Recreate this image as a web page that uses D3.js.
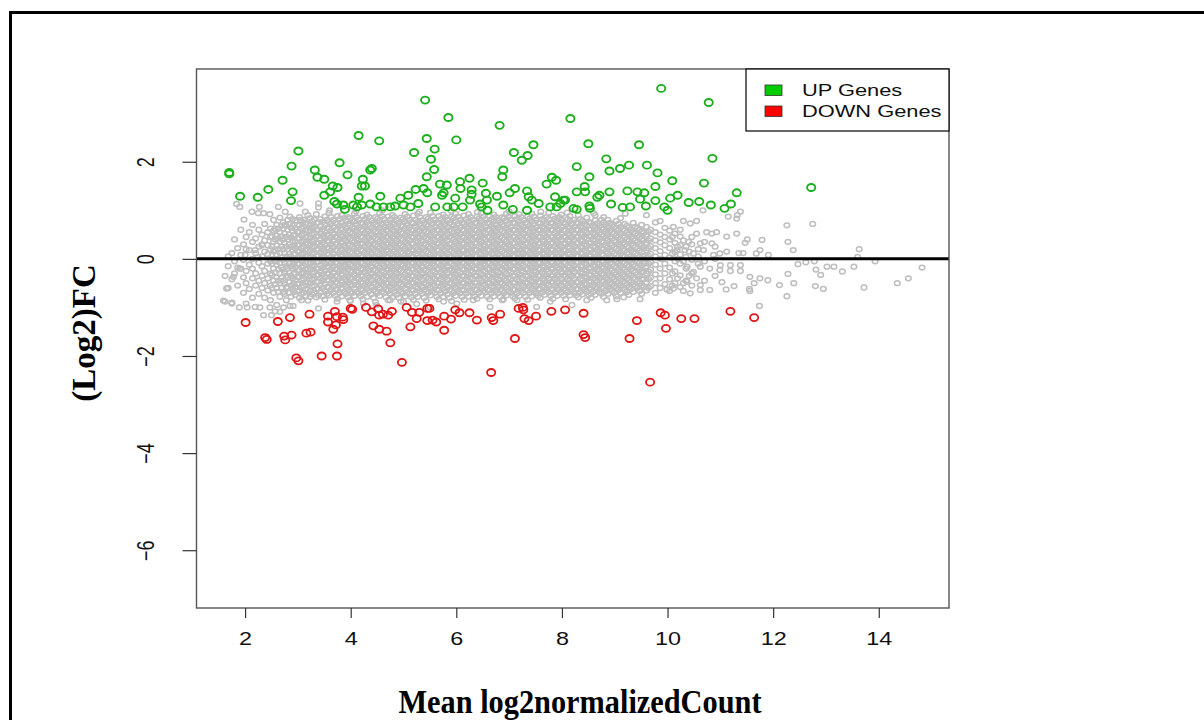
<!DOCTYPE html>
<html><head><meta charset="utf-8">
<script src="https://cdn.jsdelivr.net/npm/d3@7"></script>
<style>body{margin:0;background:#fff}svg{display:block}</style>
</head><body>
<svg id="chart" width="1204" height="720"></svg>
<script>
const xTicks = [2, 4, 6, 8, 10, 12, 14];
const yTicks = [2, 0, -2, -4, -6];
const legendLabels = ["UP Genes", "DOWN Genes"];
const xTitle = "Mean log2normalizedCount";
const yTitle = "(Log2)FC";

const upGenes = [
[1.70,1.78],[1.70,1.75],[1.905,1.29],[2.24,1.27],[2.44,1.43],[2.71,1.62],[2.88,1.91],[3.01,2.22],[2.90,1.38],[2.87,1.20],
[3.32,1.83],[3.37,1.68],[3.50,1.64],[3.79,1.98],[3.94,1.73],[3.66,1.50],[3.75,1.47],[3.61,1.38],[3.50,1.31],
[4.15,2.54],[4.23,1.64],[4.21,1.50],[4.27,1.50],[4.15,1.27],[4.37,1.83],[4.40,1.86],[4.54,2.43],[4.56,1.29],
[3.69,1.18],[3.74,1.13],[3.86,1.11],[3.89,1.02],
[4.05,1.11],[4.12,1.07],[4.21,1.11],[4.37,1.13],[4.49,1.07],[4.62,1.07],[4.75,1.07],[4.84,1.09],[4.94,1.25],[5.0,1.11],
[5.09,1.31],[5.13,1.07],[5.20,2.19],[5.23,1.43],[5.28,1.14],[5.38,1.45],[5.44,2.48],[5.45,1.36],[5.44,1.69],[5.52,2.05],
[5.59,2.26],[5.58,1.84],[5.60,1.07],[5.69,1.54],[5.73,1.31],[5.76,1.36],[5.82,1.52],[5.83,1.07],[5.95,1.07],[6.0,2.45],
[5.85,2.91],[5.41,3.27],[5.98,1.25],[6.07,1.59],[6.08,1.45],[6.12,1.07],[6.25,1.66],[6.29,1.42],[6.29,1.33],[6.26,1.21],
[6.45,1.13],[6.50,1.56],[6.56,1.35],[6.58,1.21],[6.59,1.0],[6.48,1.07],[6.77,1.29],[6.82,2.75],[6.89,1.83],[6.87,1.69],
[6.89,1.11],[7.01,1.36],[7.07,1.02],[7.09,2.19],[7.11,1.45],[7.24,2.03],[7.35,2.13],[7.46,2.35],[7.34,1.40],[7.37,1.28],
[7.34,1.0],[7.43,1.21],[7.56,1.14],[7.71,1.54],[7.81,1.68],[7.89,1.62],[7.87,1.28],[7.78,1.07],[7.90,1.07],[8.06,1.21],[8.16,2.89],
[9.88,3.51],[10.78,3.22],[8.50,2.37],[9.46,2.35],[10.85,2.07],[8.84,2.06],[8.28,1.90],[8.90,1.81],[9.10,1.86],[9.27,1.93],
[9.61,1.93],[9.81,1.77],[8.52,1.69],[10.09,1.61],[9.77,1.49],[10.69,1.56],[12.72,1.47],[11.31,1.36],[8.43,1.49],[8.28,1.38],
[8.44,1.38],[8.90,1.38],[9.24,1.40],[9.43,1.38],[9.56,1.36],[8.71,1.31],[8.67,1.27],[9.48,1.23],[9.77,1.20],[10.05,1.25],
[10.19,1.31],[10.40,1.16],[10.60,1.18],[10.82,1.11],[11.20,1.13],[11.08,1.04],[8.93,1.13],[9.15,1.06],[9.29,1.07],[9.59,1.09],
[9.94,1.07],[10.0,1.0],[8.52,1.09],[8.53,1.04],[8.22,1.04],[8.28,1.02],[8.03,1.21],[7.97,1.14]
];

const downGenes = [
[2.01,-1.31],[2.38,-1.62],[2.41,-1.66],[2.62,-1.29],[2.74,-1.59],[2.76,-1.67],[2.88,-1.57],[2.85,-1.21],[2.97,-2.04],[3.01,-2.10],
[3.16,-1.53],[3.24,-1.51],[3.22,-1.14],[3.45,-2.0],[3.57,-1.18],[3.57,-1.30],[3.70,-1.08],[3.74,-1.19],[3.85,-1.20],[3.86,-1.25],
[3.72,-1.36],[3.67,-1.45],[3.75,-1.75],[3.74,-2.0],[4.0,-1.02],[4.03,-1.04],[4.29,-1.0],[4.40,-1.09],[4.52,-1.03],[4.54,-1.16],
[4.61,-1.14],[4.71,-1.16],[4.78,-1.08],[4.43,-1.38],[4.54,-1.45],[4.68,-1.49],[4.75,-1.73],[4.97,-2.13],[5.06,-1.0],[5.16,-1.10],
[5.30,-1.10],[5.25,-1.23],[5.45,-1.02],[5.49,-1.02],[5.13,-1.40],[5.45,-1.27],[5.55,-1.26],[5.62,-1.30],[5.77,-1.18],[5.90,-1.24],
[5.77,-1.47],[5.98,-1.05],[6.06,-1.11],[6.25,-1.11],[6.39,-1.26],[6.66,-2.34],[6.67,-1.21],[6.70,-1.27],[6.83,-1.14],[7.11,-1.64],
[7.18,-1.02],[7.26,-1.0],[7.27,-1.05],[7.29,-1.23],[7.37,-1.27],[7.51,-1.18],[7.80,-1.08],[8.06,-1.05],[8.41,-1.12],[8.41,-1.56],
[8.44,-1.62],[9.42,-1.27],[9.28,-1.64],[9.87,-1.11],[9.95,-1.16],[9.97,-1.43],[10.26,-1.23],[10.51,-1.23],[9.67,-2.54],[11.19,-1.08],[11.64,-1.21]
];

// gray (non-significant) genes, read column by column from the dense cloud
const grayColumns = [
[1.62,[-0.88,-0.35]],
[1.68,[-0.6,-0.15,0.05]],
[1.75,[-0.92,-0.42,0.12]],
[1.8,[-0.3,-0.05,0.4]],
[1.86,[-0.55,-0.18,0.22]],
[1.92,[-0.2,0.08,0.6]],
[1.97,[-0.7,-0.38,-0.02,0.3]],
[2.02,[-0.92,-0.5,-0.25,0.2,0.45]],
[2.08,[-0.62,-0.12,0.18,0.55]],
[2.14,[-0.8,-0.4,-0.2,0.0,0.35,0.7]],
[2.2,[-0.55,-0.3,0.12,0.42]],
[2.26,[-0.72,-0.45,-0.08,0.25,0.6]],
[2.32,[-0.6,-0.35,-0.15,0.05,0.3,0.5]],
[2.37,[-0.8,-0.5,-0.25,0.15,0.38,0.72]],
[2.43,[-0.65,-0.4,-0.1,0.1,0.28,0.55]],
[2.48,[-0.85,-0.55,-0.3,-0.05,0.2,0.45,0.62]],
[2.54,[-0.7,-0.45,-0.2,0.0,0.15,0.35,0.58,0.8]],
[2.6,[-0.95,-0.6,-0.38,-0.12,0.08,0.28,0.48,0.7]],
[2.66,[-0.78,-0.5,-0.3,-0.08,0.12,0.35,0.55,0.85]],
[2.72,[-0.68,-0.45,-0.22,-0.02,0.2,0.4,0.62,0.75]],
[2.78,[-0.85,-0.58,-0.35,-0.15,0.05,0.25,0.45,0.68]],
[2.84,[-0.7,-0.48,-0.28,-0.1,0.1,0.3,0.5,0.72]],
[2.9,[-0.62,-0.4,-0.2,0.0,0.18,0.38,0.58,0.82]],
[2.95,[-0.74,-0.58,-0.44,-0.3,-0.17,-0.04,0.09,0.22,0.35,0.49,0.62,0.78]],
[3.03,[-0.8,-0.65,-0.51,-0.37,-0.24,-0.11,0.02,0.15,0.28,0.42,0.55,0.69,0.86]],
[3.11,[-0.7,-0.55,-0.41,-0.28,-0.14,-0.01,0.12,0.25,0.38,0.52,0.66,0.8]],
[3.19,[-0.86,-0.63,-0.49,-0.35,-0.21,-0.08,0.05,0.18,0.31,0.45,0.58,0.72,0.9]],
[3.27,[-0.73,-0.57,-0.43,-0.3,-0.16,-0.03,0.1,0.23,0.36,0.5,0.63,0.77]],
[3.35,[-0.79,-0.62,-0.47,-0.34,-0.2,-0.07,0.06,0.19,0.33,0.46,0.6,0.74,0.92]],
[3.43,[-0.68,-0.54,-0.4,-0.26,-0.13,0.0,0.13,0.26,0.4,0.53,0.67,0.82]],
[3.51,[-0.84,-0.66,-0.51,-0.37,-0.23,-0.1,0.03,0.16,0.3,0.43,0.57,0.71,0.87]],
[3.59,[-0.75,-0.59,-0.45,-0.31,-0.18,-0.05,0.08,0.21,0.35,0.48,0.62,0.76,0.95]],
[3.67,[-0.7,-0.56,-0.42,-0.28,-0.15,-0.02,0.11,0.24,0.38,0.51,0.65,0.8]],
[3.75,[-0.82,-0.64,-0.5,-0.36,-0.22,-0.09,0.04,0.17,0.31,0.44,0.58,0.72,0.88]],
[3.83,[-0.77,-0.6,-0.46,-0.32,-0.19,-0.06,0.07,0.2,0.34,0.47,0.61,0.75,0.9]],
[3.91,[-0.72,-0.57,-0.43,-0.29,-0.16,-0.03,0.1,0.23,0.37,0.5,0.64,0.79]],
[3.99,[-0.87,-0.68,-0.53,-0.39,-0.25,-0.12,0.01,0.14,0.28,0.41,0.55,0.69,0.84]],
[4.07,[-0.76,-0.6,-0.46,-0.32,-0.18,-0.05,0.08,0.21,0.35,0.48,0.62,0.77,0.93]],
[4.15,[-0.71,-0.56,-0.42,-0.28,-0.15,-0.02,0.11,0.24,0.38,0.51,0.65,0.81]],
[4.23,[-0.83,-0.65,-0.5,-0.36,-0.22,-0.09,0.04,0.17,0.31,0.44,0.58,0.72,0.88]],
[4.31,[-0.78,-0.61,-0.47,-0.33,-0.19,-0.06,0.07,0.2,0.34,0.47,0.61,0.76,0.91]],
[4.39,[-0.73,-0.58,-0.44,-0.3,-0.16,-0.03,0.1,0.23,0.37,0.5,0.64,0.79]],
[4.47,[-0.89,-0.67,-0.52,-0.38,-0.24,-0.11,0.02,0.15,0.29,0.42,0.56,0.7,0.86]],
[4.55,[-0.76,-0.6,-0.45,-0.31,-0.17,-0.04,0.09,0.22,0.36,0.49,0.63,0.78,0.94]],
[4.63,[-0.7,-0.55,-0.41,-0.27,-0.14,-0.01,0.12,0.25,0.39,0.52,0.66,0.82]],
[4.71,[-0.85,-0.66,-0.51,-0.37,-0.23,-0.1,0.03,0.16,0.3,0.43,0.57,0.71,0.87]],
[4.79,[-0.79,-0.62,-0.48,-0.34,-0.2,-0.07,0.06,0.19,0.33,0.46,0.6,0.75,0.9]],
[4.87,[-0.74,-0.58,-0.44,-0.3,-0.16,-0.03,0.1,0.23,0.37,0.5,0.64,0.8]],
[4.95,[-0.88,-0.68,-0.53,-0.39,-0.25,-0.12,0.01,0.14,0.28,0.41,0.55,0.69,0.85]],
[5.03,[-0.77,-0.61,-0.46,-0.32,-0.18,-0.05,0.08,0.21,0.35,0.48,0.62,0.77,0.92]],
[5.11,[-0.72,-0.56,-0.42,-0.28,-0.15,-0.02,0.11,0.24,0.38,0.51,0.65,0.8]],
[5.19,[-0.84,-0.65,-0.5,-0.36,-0.22,-0.09,0.04,0.17,0.31,0.44,0.58,0.73,0.89]],
[5.27,[-0.78,-0.61,-0.47,-0.33,-0.19,-0.06,0.07,0.2,0.34,0.47,0.61,0.76,0.93]],
[5.35,[-0.71,-0.57,-0.43,-0.29,-0.16,-0.03,0.1,0.23,0.37,0.5,0.64,0.79]],
[5.43,[-0.86,-0.67,-0.52,-0.38,-0.24,-0.11,0.02,0.15,0.29,0.42,0.56,0.7,0.86]],
[5.51,[-0.75,-0.6,-0.45,-0.31,-0.17,-0.04,0.09,0.22,0.36,0.49,0.63,0.78,0.95]],
[5.59,[-0.7,-0.55,-0.41,-0.27,-0.14,-0.01,0.12,0.25,0.39,0.52,0.66,0.81]],
[5.67,[-0.83,-0.65,-0.5,-0.36,-0.22,-0.09,0.04,0.17,0.31,0.44,0.58,0.72,0.88]],
[5.75,[-0.78,-0.61,-0.47,-0.33,-0.19,-0.06,0.07,0.2,0.34,0.47,0.61,0.76,0.91]],
[5.83,[-0.73,-0.57,-0.43,-0.29,-0.15,-0.02,0.11,0.24,0.38,0.51,0.65,0.8]],
[5.91,[-0.87,-0.66,-0.51,-0.37,-0.23,-0.1,0.03,0.16,0.3,0.43,0.57,0.71,0.87]],
[5.99,[-0.76,-0.6,-0.46,-0.32,-0.18,-0.05,0.08,0.21,0.35,0.48,0.62,0.77,0.93]],
[6.07,[-0.71,-0.56,-0.42,-0.28,-0.15,-0.02,0.11,0.24,0.38,0.51,0.65,0.8]],
[6.15,[-0.84,-0.65,-0.5,-0.36,-0.22,-0.09,0.04,0.17,0.31,0.44,0.58,0.72,0.89]],
[6.23,[-0.77,-0.6,-0.46,-0.32,-0.18,-0.05,0.08,0.21,0.35,0.48,0.62,0.77,0.92]],
[6.31,[-0.7,-0.55,-0.41,-0.27,-0.14,-0.01,0.12,0.25,0.39,0.52,0.66,0.8]],
[6.39,[-0.82,-0.64,-0.49,-0.35,-0.21,-0.08,0.05,0.18,0.32,0.45,0.59,0.73,0.87]],
[6.47,[-0.76,-0.6,-0.45,-0.31,-0.17,-0.04,0.09,0.22,0.36,0.49,0.63,0.78,0.94]],
[6.55,[-0.69,-0.54,-0.4,-0.26,-0.13,0.0,0.13,0.26,0.4,0.53,0.67,0.82]],
[6.63,[-0.83,-0.65,-0.5,-0.36,-0.22,-0.09,0.04,0.17,0.31,0.44,0.58,0.72,0.88]],
[6.71,[-0.77,-0.6,-0.46,-0.32,-0.18,-0.05,0.08,0.21,0.35,0.48,0.62,0.77,0.91]],
[6.79,[-0.71,-0.56,-0.42,-0.28,-0.15,-0.02,0.11,0.24,0.38,0.51,0.65,0.8]],
[6.87,[-0.85,-0.66,-0.51,-0.37,-0.23,-0.1,0.03,0.16,0.3,0.43,0.57,0.71,0.86]],
[6.95,[-0.75,-0.59,-0.45,-0.31,-0.17,-0.04,0.09,0.22,0.36,0.49,0.63,0.78,0.93]],
[7.03,[-0.7,-0.55,-0.41,-0.27,-0.14,-0.01,0.12,0.25,0.39,0.52,0.66,0.81]],
[7.11,[-0.81,-0.64,-0.49,-0.35,-0.21,-0.08,0.05,0.18,0.32,0.45,0.59,0.73,0.88]],
[7.19,[-0.76,-0.6,-0.46,-0.32,-0.18,-0.05,0.08,0.21,0.35,0.48,0.62,0.77,0.92]],
[7.27,[-0.7,-0.55,-0.41,-0.27,-0.14,-0.01,0.12,0.25,0.39,0.52,0.66,0.8]],
[7.35,[-0.84,-0.65,-0.5,-0.36,-0.22,-0.09,0.04,0.17,0.31,0.44,0.58,0.72,0.87]],
[7.43,[-0.77,-0.61,-0.46,-0.32,-0.18,-0.05,0.08,0.21,0.35,0.48,0.62,0.77,0.93]],
[7.51,[-0.71,-0.56,-0.42,-0.28,-0.15,-0.02,0.11,0.24,0.38,0.51,0.65,0.8]],
[7.59,[-0.8,-0.63,-0.49,-0.35,-0.21,-0.08,0.05,0.18,0.32,0.45,0.59,0.73,0.89]],
[7.67,[-0.74,-0.59,-0.45,-0.31,-0.17,-0.04,0.09,0.22,0.36,0.49,0.63,0.78]],
[7.75,[-0.69,-0.54,-0.4,-0.26,-0.13,0.0,0.13,0.26,0.4,0.53,0.67,0.82,0.95]],
[7.83,[-0.82,-0.64,-0.49,-0.35,-0.21,-0.08,0.05,0.18,0.32,0.45,0.59,0.73,0.88]],
[7.91,[-0.76,-0.6,-0.46,-0.32,-0.18,-0.05,0.08,0.21,0.35,0.48,0.62,0.77]],
[7.99,[-0.7,-0.55,-0.41,-0.27,-0.14,-0.01,0.12,0.25,0.39,0.52,0.66,0.8,0.91]],
[8.07,[-0.83,-0.65,-0.5,-0.36,-0.22,-0.09,0.04,0.17,0.31,0.44,0.58,0.72]],
[8.15,[-0.75,-0.59,-0.45,-0.31,-0.17,-0.04,0.09,0.22,0.36,0.49,0.63,0.78,0.88]],
[8.23,[-0.7,-0.55,-0.41,-0.27,-0.14,-0.01,0.12,0.25,0.39,0.52,0.66,0.8]],
[8.31,[-0.79,-0.62,-0.48,-0.34,-0.2,-0.07,0.06,0.19,0.33,0.46,0.6,0.74,0.9]],
[8.39,[-0.73,-0.58,-0.44,-0.3,-0.16,-0.03,0.1,0.23,0.37,0.5,0.64,0.78]],
[8.47,[-0.68,-0.53,-0.39,-0.25,-0.12,0.01,0.14,0.27,0.41,0.54,0.68,0.85]],
[8.55,[-0.8,-0.63,-0.48,-0.34,-0.2,-0.07,0.06,0.19,0.33,0.46,0.6,0.74]],
[8.63,[-0.74,-0.58,-0.44,-0.3,-0.16,-0.03,0.1,0.23,0.37,0.5,0.64,0.79,0.9]],
[8.71,[-0.68,-0.53,-0.39,-0.25,-0.12,0.01,0.14,0.27,0.41,0.54,0.68]],
[8.79,[-0.78,-0.61,-0.47,-0.33,-0.19,-0.06,0.07,0.2,0.34,0.47,0.61,0.75,0.86]],
[8.87,[-0.72,-0.57,-0.43,-0.29,-0.15,-0.02,0.11,0.24,0.38,0.51,0.65,0.8]],
[8.95,[-0.66,-0.52,-0.38,-0.24,-0.11,0.02,0.15,0.28,0.42,0.55,0.7]],
[9.03,[-0.77,-0.6,-0.46,-0.32,-0.18,-0.05,0.08,0.21,0.35,0.48,0.62,0.78]],
[9.11,[-0.7,-0.55,-0.41,-0.27,-0.14,-0.01,0.12,0.25,0.39,0.52,0.66,0.84]],
[9.19,[-0.64,-0.5,-0.36,-0.22,-0.09,0.04,0.17,0.3,0.44,0.58,0.72]],
[9.27,[-0.74,-0.58,-0.44,-0.3,-0.16,-0.03,0.1,0.23,0.37,0.5,0.65]],
[9.35,[-0.68,-0.53,-0.39,-0.25,-0.12,0.01,0.14,0.27,0.41,0.55,0.74]],
[9.43,[-0.6,-0.46,-0.32,-0.18,-0.05,0.08,0.21,0.35,0.49,0.63]],
[9.51,[-0.72,-0.55,-0.41,-0.27,-0.13,0.0,0.13,0.27,0.41,0.56,0.7]],
[9.6,[-0.65,-0.48,-0.3,-0.15,0.02,0.18,0.33,0.5,0.66]],
[9.68,[-0.56,-0.38,-0.22,-0.06,0.1,0.26,0.42,0.6]],
[9.77,[-0.7,-0.5,-0.32,-0.12,0.05,0.22,0.38,0.55,0.75]],
[9.86,[-0.6,-0.4,-0.2,0.0,0.16,0.34,0.5]],
[9.95,[-0.52,-0.3,-0.1,0.08,0.28,0.45,0.64]],
[10.04,[-0.66,-0.42,-0.18,0.03,0.22,0.4,0.58]],
[10.09,[-0.55,-0.3,0.1,0.45]],
[10.14,[-0.5,-0.26,-0.05,0.14,0.33,0.52]],
[10.19,[-0.4,0.0,0.25]],
[10.24,[-0.58,-0.34,-0.1,0.09,0.28,0.6]],
[10.3,[-0.5,-0.05,0.38]],
[10.35,[-0.45,-0.2,0.04,0.25]],
[10.41,[-0.35,0.15]],
[10.46,[-0.55,-0.3,-0.02,0.3,0.45]],
[10.58,[-0.1,0.05,0.2]],
[10.7,[-0.45,-0.05,0.35]],
[10.9,[-0.35,0.0,0.25]]
];

// second pass through the dense core, between the columns above
const grayCoreColumns = [
[2.51,[-0.6,-0.33,-0.1,0.08,0.25,0.46]],
[2.57,[-0.52,-0.28,-0.05,0.18,0.4,0.62]],
[2.63,[-0.68,-0.45,-0.22,0.0,0.2,0.42,0.62]],
[2.69,[-0.6,-0.38,-0.18,0.03,0.25,0.46,0.68]],
[2.75,[-0.72,-0.5,-0.28,-0.08,0.12,0.33,0.52,0.7]],
[2.81,[-0.6,-0.38,-0.2,0.0,0.2,0.4,0.6,0.8]],
[2.87,[-0.78,-0.55,-0.35,-0.15,0.05,0.25,0.44,0.64]],
[2.92,[-0.68,-0.5,-0.3,-0.1,0.1,0.28,0.48,0.7]],
[2.99,[-0.67,-0.52,-0.37,-0.24,-0.1,0.03,0.16,0.29,0.42,0.56,0.7]],
[3.07,[-0.72,-0.58,-0.44,-0.3,-0.17,-0.04,0.09,0.22,0.35,0.49,0.62,0.77]],
[3.15,[-0.76,-0.62,-0.48,-0.34,-0.21,-0.07,0.06,0.19,0.32,0.45,0.59,0.73]],
[3.23,[-0.66,-0.5,-0.36,-0.23,-0.1,0.03,0.16,0.29,0.43,0.57,0.7,0.84]],
[3.31,[-0.7,-0.55,-0.4,-0.27,-0.13,0.0,0.13,0.26,0.39,0.53,0.67,0.81]],
[3.39,[-0.75,-0.61,-0.47,-0.33,-0.2,-0.06,0.07,0.2,0.33,0.47,0.6,0.75]],
[3.47,[-0.77,-0.6,-0.45,-0.32,-0.18,-0.05,0.08,0.21,0.34,0.47,0.61,0.76]],
[3.55,[-0.72,-0.58,-0.44,-0.3,-0.16,-0.03,0.1,0.23,0.37,0.5,0.64,0.8]],
[3.63,[-0.64,-0.5,-0.36,-0.22,-0.09,0.04,0.17,0.3,0.44,0.58,0.72,0.86]],
[3.71,[-0.76,-0.62,-0.48,-0.35,-0.21,-0.08,0.05,0.18,0.31,0.45,0.59,0.74]],
[3.79,[-0.7,-0.54,-0.4,-0.26,-0.13,0.0,0.13,0.26,0.4,0.54,0.68,0.82]],
[3.87,[-0.68,-0.53,-0.39,-0.25,-0.12,0.01,0.14,0.27,0.41,0.55,0.69,0.84]],
[3.95,[-0.79,-0.64,-0.5,-0.36,-0.22,-0.09,0.04,0.17,0.3,0.44,0.58,0.72,0.86]],
[4.03,[-0.7,-0.55,-0.41,-0.27,-0.14,-0.01,0.12,0.25,0.38,0.52,0.66,0.8]],
[4.11,[-0.68,-0.53,-0.39,-0.25,-0.11,0.02,0.15,0.28,0.42,0.56,0.7,0.86]],
[4.19,[-0.77,-0.62,-0.48,-0.34,-0.2,-0.07,0.06,0.19,0.32,0.46,0.6,0.74]],
[4.27,[-0.7,-0.55,-0.41,-0.27,-0.13,0.0,0.13,0.26,0.39,0.53,0.67,0.82]],
[4.35,[-0.66,-0.52,-0.38,-0.24,-0.1,0.03,0.16,0.29,0.43,0.57,0.71,0.86]],
[4.43,[-0.8,-0.64,-0.5,-0.36,-0.22,-0.08,0.05,0.18,0.31,0.45,0.59,0.74]],
[4.51,[-0.7,-0.55,-0.41,-0.27,-0.13,0.0,0.13,0.26,0.4,0.54,0.68,0.83]],
[4.59,[-0.67,-0.52,-0.38,-0.24,-0.1,0.03,0.16,0.29,0.43,0.57,0.72,0.88]],
[4.67,[-0.79,-0.63,-0.49,-0.35,-0.21,-0.07,0.06,0.19,0.32,0.46,0.6,0.75]],
[4.75,[-0.72,-0.57,-0.43,-0.29,-0.15,-0.02,0.11,0.24,0.38,0.52,0.66,0.81]],
[4.83,[-0.68,-0.53,-0.39,-0.25,-0.11,0.02,0.15,0.28,0.42,0.56,0.71,0.86]],
[4.91,[-0.8,-0.64,-0.5,-0.36,-0.22,-0.08,0.05,0.18,0.31,0.45,0.59,0.74]],
[4.99,[-0.71,-0.56,-0.42,-0.28,-0.14,-0.01,0.12,0.25,0.39,0.53,0.67,0.82]],
[5.07,[-0.68,-0.53,-0.39,-0.25,-0.11,0.02,0.15,0.28,0.42,0.56,0.71,0.87]],
[5.15,[-0.79,-0.63,-0.49,-0.35,-0.21,-0.07,0.06,0.19,0.32,0.46,0.6,0.75]],
[5.23,[-0.72,-0.57,-0.43,-0.29,-0.15,-0.02,0.11,0.24,0.38,0.52,0.66,0.81]],
[5.31,[-0.67,-0.52,-0.38,-0.24,-0.1,0.03,0.16,0.29,0.43,0.57,0.71,0.86]],
[5.39,[-0.8,-0.64,-0.5,-0.36,-0.22,-0.08,0.05,0.18,0.31,0.45,0.59,0.74]],
[5.47,[-0.7,-0.55,-0.41,-0.27,-0.13,0.0,0.13,0.26,0.4,0.54,0.68,0.83]],
[5.55,[-0.66,-0.52,-0.38,-0.24,-0.1,0.03,0.16,0.29,0.43,0.57,0.72,0.88]],
[5.63,[-0.78,-0.63,-0.49,-0.35,-0.21,-0.07,0.06,0.19,0.32,0.46,0.6,0.75]],
[5.71,[-0.71,-0.56,-0.42,-0.28,-0.14,-0.01,0.12,0.25,0.39,0.53,0.67,0.82]],
[5.79,[-0.67,-0.52,-0.38,-0.24,-0.1,0.03,0.16,0.29,0.43,0.57,0.71,0.86]],
[5.87,[-0.8,-0.64,-0.5,-0.36,-0.22,-0.08,0.05,0.18,0.31,0.45,0.59,0.74]],
[5.95,[-0.7,-0.55,-0.41,-0.27,-0.13,0.0,0.13,0.26,0.4,0.54,0.68,0.84]],
[6.03,[-0.66,-0.52,-0.38,-0.24,-0.1,0.03,0.16,0.29,0.43,0.57,0.72,0.87]],
[6.11,[-0.78,-0.63,-0.49,-0.35,-0.21,-0.07,0.06,0.19,0.32,0.46,0.6,0.75]],
[6.19,[-0.71,-0.56,-0.42,-0.28,-0.14,-0.01,0.12,0.25,0.39,0.53,0.67,0.82]],
[6.27,[-0.66,-0.52,-0.38,-0.24,-0.1,0.03,0.16,0.29,0.43,0.57,0.71,0.86]],
[6.35,[-0.77,-0.63,-0.49,-0.35,-0.21,-0.07,0.06,0.19,0.32,0.46,0.6,0.74]],
[6.43,[-0.7,-0.55,-0.41,-0.27,-0.13,0.0,0.13,0.26,0.4,0.54,0.68,0.83]],
[6.51,[-0.66,-0.52,-0.38,-0.24,-0.1,0.03,0.16,0.29,0.43,0.57,0.72,0.87]],
[6.59,[-0.78,-0.63,-0.49,-0.35,-0.21,-0.07,0.06,0.19,0.32,0.46,0.6,0.75]],
[6.67,[-0.71,-0.56,-0.42,-0.28,-0.14,-0.01,0.12,0.25,0.39,0.53,0.67,0.82]],
[6.75,[-0.66,-0.52,-0.38,-0.24,-0.1,0.03,0.16,0.29,0.43,0.57,0.71,0.86]],
[6.83,[-0.78,-0.63,-0.49,-0.35,-0.21,-0.07,0.06,0.19,0.32,0.46,0.6,0.75]],
[6.91,[-0.7,-0.55,-0.41,-0.27,-0.13,0.0,0.13,0.26,0.4,0.54,0.68,0.84]],
[6.99,[-0.66,-0.52,-0.38,-0.24,-0.1,0.03,0.16,0.29,0.43,0.57,0.72,0.87]],
[7.07,[-0.77,-0.63,-0.49,-0.35,-0.21,-0.07,0.06,0.19,0.32,0.46,0.6,0.75]],
[7.15,[-0.71,-0.56,-0.42,-0.28,-0.14,-0.01,0.12,0.25,0.39,0.53,0.67,0.82]],
[7.23,[-0.66,-0.52,-0.38,-0.24,-0.1,0.03,0.16,0.29,0.43,0.57,0.71,0.86]],
[7.31,[-0.78,-0.63,-0.49,-0.35,-0.21,-0.07,0.06,0.19,0.32,0.46,0.6,0.74]],
[7.39,[-0.7,-0.55,-0.41,-0.27,-0.13,0.0,0.13,0.26,0.4,0.54,0.68,0.83]],
[7.47,[-0.66,-0.52,-0.38,-0.24,-0.1,0.03,0.16,0.29,0.43,0.57,0.72,0.87]],
[7.55,[-0.76,-0.62,-0.48,-0.34,-0.2,-0.07,0.06,0.19,0.32,0.46,0.6,0.75]],
[7.63,[-0.69,-0.55,-0.41,-0.27,-0.14,-0.01,0.12,0.25,0.39,0.53,0.67,0.82]],
[7.71,[-0.64,-0.5,-0.36,-0.22,-0.09,0.04,0.17,0.3,0.44,0.58,0.72,0.86]],
[7.79,[-0.76,-0.62,-0.48,-0.34,-0.2,-0.07,0.06,0.19,0.32,0.46,0.6,0.74]],
[7.87,[-0.7,-0.55,-0.41,-0.27,-0.13,0.0,0.13,0.26,0.4,0.54,0.68,0.83]],
[7.95,[-0.64,-0.5,-0.36,-0.22,-0.09,0.04,0.17,0.3,0.44,0.58,0.72,0.86]],
[8.03,[-0.76,-0.62,-0.48,-0.34,-0.2,-0.07,0.06,0.19,0.32,0.46,0.6,0.75]],
[8.11,[-0.69,-0.55,-0.41,-0.27,-0.14,-0.01,0.12,0.25,0.39,0.53,0.67,0.82]],
[8.19,[-0.64,-0.5,-0.36,-0.22,-0.09,0.04,0.17,0.3,0.44,0.58,0.72]],
[8.27,[-0.75,-0.62,-0.48,-0.34,-0.2,-0.07,0.06,0.19,0.32,0.46,0.6,0.75]],
[8.35,[-0.68,-0.55,-0.41,-0.27,-0.14,-0.01,0.12,0.25,0.39,0.53,0.67,0.82]],
[8.43,[-0.63,-0.5,-0.36,-0.22,-0.09,0.04,0.17,0.3,0.44,0.58,0.72]],
[8.51,[-0.74,-0.6,-0.46,-0.32,-0.19,-0.06,0.07,0.2,0.33,0.47,0.61,0.76]],
[8.59,[-0.68,-0.54,-0.4,-0.26,-0.13,0.0,0.13,0.26,0.4,0.54,0.68]],
[8.67,[-0.62,-0.48,-0.34,-0.21,-0.08,0.05,0.18,0.31,0.45,0.59,0.73]],
[8.75,[-0.72,-0.58,-0.44,-0.3,-0.17,-0.04,0.09,0.22,0.36,0.5,0.64,0.8]],
[8.83,[-0.66,-0.52,-0.38,-0.24,-0.11,0.02,0.15,0.28,0.42,0.56,0.7]],
[8.91,[-0.62,-0.48,-0.34,-0.21,-0.08,0.05,0.18,0.31,0.45,0.59,0.74]],
[8.99,[-0.7,-0.56,-0.42,-0.28,-0.15,-0.02,0.11,0.24,0.38,0.52,0.66]],
[9.07,[-0.64,-0.5,-0.36,-0.22,-0.09,0.04,0.17,0.3,0.44,0.58,0.72]],
[9.15,[-0.6,-0.46,-0.32,-0.19,-0.06,0.07,0.2,0.33,0.47,0.61]],
[9.23,[-0.68,-0.54,-0.4,-0.26,-0.13,0.0,0.13,0.26,0.4,0.54,0.68]],
[9.31,[-0.62,-0.48,-0.34,-0.21,-0.08,0.05,0.18,0.31,0.45,0.6]],
[9.39,[-0.56,-0.42,-0.28,-0.15,-0.02,0.11,0.24,0.38,0.52,0.66]],
[9.47,[-0.66,-0.5,-0.36,-0.22,-0.09,0.04,0.17,0.31,0.45,0.6]],
[9.55,[-0.58,-0.42,-0.26,-0.1,0.06,0.22,0.38,0.54]],
[9.64,[-0.6,-0.42,-0.26,-0.1,0.06,0.22,0.38,0.56]]
];

const grayScattered = [
[1.59,-0.86],[1.75,-0.9],[1.89,-1.0],[2.04,-1.0],[2.19,-0.99],[2.28,-1.0],[2.47,-1.0],[2.57,-1.08],[2.73,-1.0],[2.91,-0.97],
[3.07,-0.85],[3.23,-0.78],[3.39,-1.02],[1.84,1.13],[1.9,1.07],[1.98,0.81],[2.13,0.97],[2.25,0.94],[2.35,0.94],[2.47,0.92],
[2.27,1.07],[2.63,1.07],[2.76,0.97],[2.85,0.87],[3.04,1.14],[3.14,0.97],[3.04,0.80],[3.39,1.14],[3.39,1.06],
[2.0,0.08],[2.25,0.04],[2.19,0.18],[2.32,0.28],[1.65,-0.61],[1.78,-0.37],[1.9,-0.2],[2.35,-1.16],[2.5,-1.16],[2.66,-1.09],[2.85,-0.97],
[3.74,-0.88],[3.99,-0.85],[4.24,-0.92],[4.49,-0.95],[4.75,-0.85],[5.0,-0.88],[5.25,-0.93],[5.5,-0.99],[5.76,-0.88],[6.01,-0.92],
[6.32,-0.85],[6.64,-0.99],[6.89,-0.83],[7.15,-0.85],[7.52,-0.99],[7.78,-0.88],
[3.6,1.0],[4.1,0.98],[4.6,1.0],[5.3,0.97],[5.9,0.99],[6.4,0.96],[7.0,0.98],[7.6,0.97],[8.1,0.95],[8.6,0.94],[9.2,0.93],[9.6,0.9],
[9.86,0.78],[10.11,0.66],[10.30,0.78],[10.43,0.73],[10.55,0.78],[10.67,1.0],[10.55,0.52],[10.74,0.55],[10.84,0.52],[10.93,0.55],
[11.12,0.46],[10.24,0.46],[10.4,0.35],[10.62,0.32],[10.84,0.32],[10.18,0.18],[10.33,0.18],[10.49,0.11],[10.68,0.18],[10.87,0.08],
[10.99,0.11],[11.12,0.15],[10.37,-0.16],[10.49,-0.27],[10.62,-0.16],[10.8,-0.2],[10.99,-0.23],[10.37,-0.47],[10.55,-0.4],[10.62,-0.54],
[10.62,-0.64],[10.8,-0.64],[9.99,-0.63],[10.11,-0.61],[10.3,-0.66],[10.43,-0.71],[9.48,-0.83],[9.17,-0.79],[9.04,-0.83],[8.85,-0.85],
[8.47,-0.85],[8.19,-0.95],[11.0,-0.13],[11.19,-0.13],[11.38,-0.13],[11.19,-0.25],[11.38,-0.25],[11.03,-0.48],[11.11,-0.63],[11.26,-0.56],
[11.35,0.12],[11.43,0.12],[11.68,0.11],[11.75,0.18],[11.91,0.08],[11.32,0.9],[11.38,0.97],[11.31,0.52],[11.47,0.33],[11.51,0.4],
[11.79,0.39],[11.31,0.83],[11.15,0.87],[11.55,-0.62],[11.56,-0.66],[11.64,-0.5],[11.56,-0.37],[11.75,-0.4],[11.9,-0.44],[11.74,-0.97],
[12.12,-0.54],[12.28,-0.31],[12.39,-0.5],[12.26,-0.77],[12.47,-0.11],[12.62,-0.07],[12.78,-0.05],[12.8,-0.56],[12.95,-0.62],[12.81,-0.22],
[12.9,-0.33],[13.02,-0.16],[13.15,-0.16],[13.31,-0.26],[13.53,-0.16],[13.72,-0.59],[14.35,-0.5],[14.56,-0.4],[14.82,-0.18],[13.93,-0.05],
[13.6,0.04],[13.63,0.2],[12.38,0.18],[12.28,0.35],[12.26,0.69],[12.75,0.72]
];

const toPairs = cols => cols.flatMap(([cx, ys]) => ys.map(v => [cx, v]));
const grayPoints = toPairs(grayColumns).concat(toPairs(grayCoreColumns), grayScattered);

const svg = d3.select("#chart");
const L = 196.5, R = 949, T = 69, B = 608;
const x = d3.scaleLinear().domain([1.08, 15.33]).range([L, R]);
const y = d3.scaleLinear().domain([3.91, -7.19]).range([T, B]);
const sansFont = "'Liberation Sans', Arial, sans-serif";
const serifFont = "'Liberation Serif', 'Times New Roman', serif";

// outer frame
svg.append("path").attr("d", "M10.5,730 V12.5 H1215").attr("fill", "none")
  .attr("stroke", "#000").attr("stroke-width", 3);

const pts = svg.append("g");
pts.selectAll("ellipse.gray").data(grayPoints).join("ellipse").attr("class", "gray")
  .attr("cx", d => x(d[0])).attr("cy", d => y(d[1])).attr("rx", 2.8).attr("ry", 2.4)
  .attr("fill", "none").attr("stroke", "#BEBEBE").attr("stroke-width", 1.5);

// zero line
svg.append("line").attr("x1", L).attr("x2", R).attr("y1", y(0)).attr("y2", y(0))
  .attr("stroke", "#000").attr("stroke-width", 3);

const col = svg.append("g");
col.selectAll("ellipse.up").data(upGenes).join("ellipse").attr("class", "up")
  .attr("cx", d => x(d[0])).attr("cy", d => y(d[1])).attr("rx", 4.1).attr("ry", 3.5)
  .attr("fill", "none").attr("stroke", "#1CB01C").attr("stroke-width", 1.9);
col.selectAll("ellipse.down").data(downGenes).join("ellipse").attr("class", "down")
  .attr("cx", d => x(d[0])).attr("cy", d => y(d[1])).attr("rx", 4.1).attr("ry", 3.5)
  .attr("fill", "none").attr("stroke", "#E01515").attr("stroke-width", 1.8);

// plot box
svg.append("rect").attr("x", L).attr("y", T).attr("width", R - L).attr("height", B - T)
  .attr("fill", "none").attr("stroke", "#555").attr("stroke-width", 1.4);

// axes
const gx = svg.append("g").attr("transform", `translate(0,${B})`)
  .call(d3.axisBottom(x).tickValues(xTicks).tickSize(10).tickPadding(14).tickFormat(d3.format("d")));
gx.select(".domain").remove();
gx.selectAll(".tick line").attr("stroke", "#333").attr("stroke-width", 1.2);
gx.selectAll(".tick text").attr("font-family", sansFont).attr("font-size", 18).attr("fill", "#111")
  .attr("transform", "scale(1.3,1)");

const gy = svg.append("g").attr("transform", `translate(${L},0)`)
  .call(d3.axisLeft(y).tickValues(yTicks).tickSize(14).tickFormat(d3.format("d")));
gy.select(".domain").remove();
gy.selectAll(".tick line").attr("stroke", "#333").attr("stroke-width", 1.2);
gy.selectAll(".tick text").attr("font-family", sansFont).attr("font-size", 18).attr("fill", "#111")
  .attr("x", 0).attr("y", 0).attr("dy", "0.35em").attr("text-anchor", "middle")
  .attr("transform", "translate(-51,0) scale(1.3,1) rotate(-90)");

// legend
const lg = svg.append("g");
lg.append("rect").attr("x", 746).attr("y", T).attr("width", R - 746).attr("height", 62)
  .attr("fill", "#fff").attr("stroke", "#000").attr("stroke-width", 1.2);
const legendColors = ["#00CD00", "#FF0000"];
legendLabels.forEach((lab, i) => {
  const by = 85 + i * 21;
  lg.append("rect").attr("x", 765).attr("y", by).attr("width", 17).attr("height", 10.5)
    .attr("fill", legendColors[i]).attr("stroke", "#333").attr("stroke-width", 0.8);
  lg.append("text").attr("transform", `translate(802,${by + 11}) scale(1.3,1)`)
    .attr("font-family", sansFont).attr("font-size", 16.8).attr("fill", "#111").text(lab);
});

// titles
svg.append("text").attr("x", 580).attr("y", 713).attr("text-anchor", "middle")
  .attr("font-family", serifFont).attr("font-weight", "bold").attr("font-size", 33)
  .attr("textLength", 363).attr("lengthAdjust", "spacingAndGlyphs").text(xTitle);
svg.append("text").attr("transform", "translate(95,333) rotate(-90)").attr("text-anchor", "middle")
  .attr("font-family", serifFont).attr("font-weight", "bold").attr("font-size", 33).text(yTitle);
</script>
</body></html>
